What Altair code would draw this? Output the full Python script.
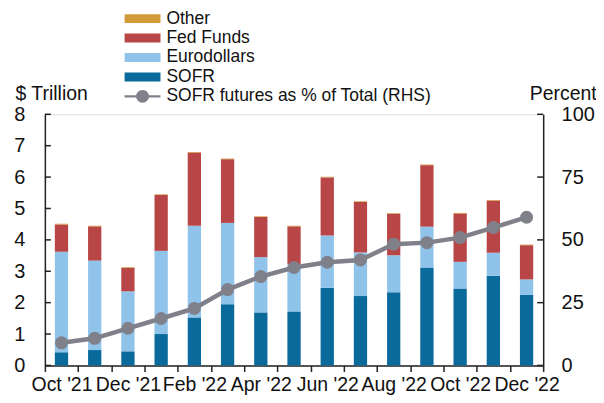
import altair as alt
import pandas as pd

months = ["Oct '21", "Nov '21", "Dec '21", "Jan '22", "Feb '22", "Mar '22", "Apr '22",
          "May '22", "Jun '22", "Jul '22", "Aug '22", "Sep '22", "Oct '22", "Nov '22", "Dec '22"]
shown_labels = ["Oct '21", "Dec '21", "Feb '22", "Apr '22", "Jun '22", "Aug '22", "Oct '22", "Dec '22"]

sofr = [0.42, 0.49, 0.45, 1.00, 1.53, 1.95, 1.69, 1.72, 2.47, 2.21, 2.33, 3.12, 2.45, 2.86, 2.25]
eurodollars = [3.20, 2.85, 1.91, 2.65, 2.92, 2.59, 1.76, 1.50, 1.67, 1.39, 1.18, 1.30, 0.85, 0.73, 0.49]
fed_funds = [0.87, 1.09, 0.75, 1.78, 2.33, 2.03, 1.28, 1.21, 1.85, 1.61, 1.32, 1.96, 1.54, 1.66, 1.09]
other = [0.02] * 15
sofr_pct = [9.0, 10.8, 14.8, 18.7, 22.7, 30.2, 35.4, 39.0, 41.1, 42.0, 48.3, 48.9, 50.9, 54.9, 59.0]

series_names = ["Other", "Fed Funds", "Eurodollars", "SOFR"]
series_colors = ["#D39A3A", "#B94646", "#90C3EA", "#0A6A9C"]
stack_rank = {"SOFR": 0, "Eurodollars": 1, "Fed Funds": 2, "Other": 3}
left_ticks = [0, 1, 2, 3, 4, 5, 6, 7, 8]
right_ticks = [0, 25, 50, 75, 100]

rows = []
for i, m in enumerate(months):
    for name, vals in (("SOFR", sofr), ("Eurodollars", eurodollars),
                       ("Fed Funds", fed_funds), ("Other", other)):
        rows.append({"month": m, "series": name, "value": vals[i], "rank": stack_rank[name]})
bars_df = pd.DataFrame(rows)
line_df = pd.DataFrame({"month": months, "pct": sofr_pct,
                        "lbl": ["SOFR futures as % of Total (RHS)"] * len(months)})
lt_df = pd.DataFrame({"v": left_ticks})
rt_df = pd.DataFrame({"pct": right_ticks})

FONT = "Liberation Sans"
GRAY = "#7F8089"
AX = "#222222"
TXT = "#111111"

label_list = "[" + ",".join("'" + s.replace("'", "\\'") + "'" for s in shown_labels) + "]"

xenc = alt.X("month:N", sort=months,
             scale=alt.Scale(paddingInner=0, paddingOuter=0),
             axis=alt.Axis(title=None, tickBand="extent", labelOverlap=False,
                           labelExpr=f"indexof({label_list}, datum.value) >= 0 ? datum.value : ''",
                           labelAngle=0, labelFontSize=19.5, labelColor=TXT,
                           labelPadding=4, tickSize=6, tickColor=AX, domainColor=AX,
                           domainWidth=1.5, tickWidth=1.5, labelFont=FONT, grid=False))

left_axis = alt.Axis(title="$ Trillion", values=left_ticks, tickSize=0, labelPadding=20,
                     labelFontSize=20, labelColor=TXT, labelFont=FONT,
                     domainColor=AX, domainWidth=1.5, grid=False,
                     titleAngle=0, titleAlign="left", titleBaseline="alphabetic",
                     titleX=-30, titleY=-15, titleFontSize=19.5, titleFontWeight="normal",
                     titleFont=FONT, titleColor=TXT)
right_axis = alt.Axis(title="Percent", values=right_ticks, tickSize=0, labelPadding=18,
                      labelFontSize=20, labelColor=TXT, labelFont=FONT,
                      domainColor=AX, domainWidth=1.5, grid=False, orient="right",
                      titleAngle=0, titleAlign="left", titleBaseline="alphabetic",
                      titleX=-14, titleY=-15, titleFontSize=19.5, titleFontWeight="normal",
                      titleFont=FONT, titleColor=TXT)

bar_rect = "M-1.8,-0.45L1.8,-0.45L1.8,0.45L-1.8,0.45Z"

bars = alt.Chart(bars_df).mark_bar(width=alt.RelativeBandSize(0.4)).encode(
    x=xenc,
    y=alt.Y("sum(value):Q", scale=alt.Scale(domain=[0, 8]), axis=left_axis),
    color=alt.Color("series:N", scale=alt.Scale(domain=series_names, range=series_colors),
                    legend=alt.Legend(title=None, orient="none", legendX=88, legendY=-106,
                                      symbolType=bar_rect, symbolSize=400, symbolStrokeWidth=0,
                                      labelFontSize=17.5, labelFont=FONT, labelColor=TXT,
                                      rowPadding=0.5, labelOffset=14)),
    order=alt.Order("rank:Q", sort="ascending"),
)

lticks = alt.Chart(lt_df).mark_rule(color=AX, strokeWidth=1.5).encode(
    y=alt.Y("v:Q", scale=alt.Scale(domain=[0, 8]), axis=left_axis),
    x=alt.value(0), x2=alt.value(6),
)

line_sym = ("M-1.8,-0.12L1.8,-0.12L1.8,0.12L-1.8,0.12Z "
            "M0.65,0A0.65,0.65 0 1,1 -0.65,0A0.65,0.65 0 1,1 0.65,0Z")

yright = alt.Y("pct:Q", scale=alt.Scale(domain=[0, 100]), axis=right_axis)

line = alt.Chart(line_df).mark_line(strokeWidth=4.5, color=GRAY).encode(
    x=alt.X("month:N", sort=months), y=yright)
points = alt.Chart(line_df).mark_point(filled=True, size=170, opacity=1).encode(
    x=alt.X("month:N", sort=months), y=yright,
    fill=alt.Fill("lbl:N", scale=alt.Scale(range=[GRAY]),
                  legend=alt.Legend(title=None, orient="none", legendX=88, legendY=-28,
                                    symbolType=line_sym, symbolSize=400, symbolStrokeWidth=0,
                                    labelFontSize=17.5, labelFont=FONT, labelColor=TXT,
                                    labelOffset=14, labelLimit=400)),
)
rticks = alt.Chart(rt_df).mark_rule(color=AX, strokeWidth=1.5).encode(
    y=yright,
    x=alt.value(494), x2=alt.value(500),
)

left_layer = alt.layer(bars, lticks)
right_layer = alt.layer(line, points, rticks)

chart = alt.layer(left_layer, right_layer).resolve_scale(
    y="independent", color="independent", fill="independent"
).properties(
    width=500, height=252,
    autosize=alt.AutoSizeParams(type="none"),
    padding={"left": 37, "top": 106, "right": 53, "bottom": 29},
).configure_view(stroke=None).configure(background="white")

chart.save("out.html", embed_options={"renderer": "svg", "actions": False})
